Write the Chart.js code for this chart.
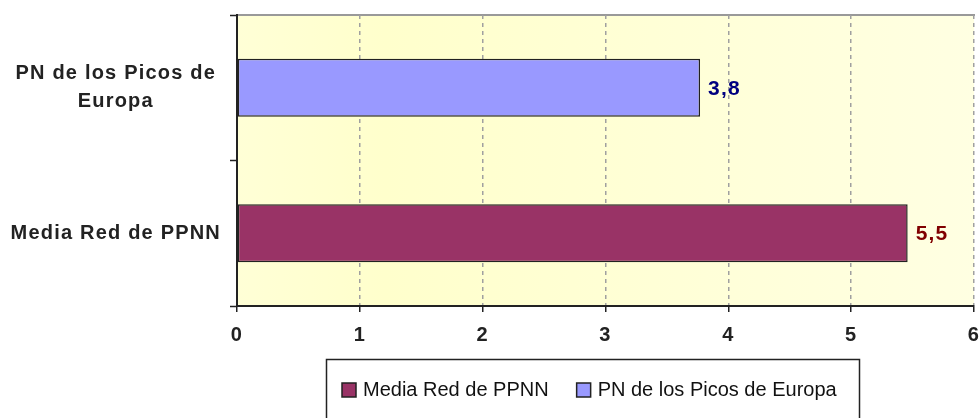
<!DOCTYPE html>
<html><head><meta charset="utf-8">
<script src="https://cdn.jsdelivr.net/npm/chart.js@4.4.1/dist/chart.umd.min.js"></script>
<style>html,body{margin:0;padding:0;background:#fff}#wrap{width:980px;height:418px;position:relative}</style>
</head><body><div id="wrap"><canvas id="c" width="980" height="418"></canvas></div>
<script>
const categories = ['Media Red de PPNN', 'PN de los Picos de Europa'];
const tickLabels = [['Media Red de PPNN'], ['PN de los Picos de', 'Europa']];
const values = [5.46, 3.77];
const valueLabels = ['5,5', '3,8'];
const barColors = ['#993366', '#9999FF'];
const valueLabelColors = ['#800000', '#000080'];
const xTicks = [0, 1, 2, 3, 4, 5, 6];

const FAMILY = "'Liberation Sans', Arial, sans-serif";
const SPACING = '1.2px';

const spacingPlugin = {
  id: 'spacing',
  beforeUpdate(chart) { chart.ctx.letterSpacing = SPACING; },
  beforeDraw(chart) { chart.ctx.letterSpacing = SPACING; }
};

const bgPlugin = {
  id: 'bg',
  beforeDraw(chart) {
    const {ctx, chartArea: a} = chart;
    ctx.save();
    const g = ctx.createLinearGradient(a.left, 0, a.right, 0);
    g.addColorStop(0, '#FFFFD6');
    g.addColorStop(0.2, '#FFFFCC');
    g.addColorStop(1, '#FFFFE2');
    ctx.fillStyle = g;
    ctx.fillRect(a.left, a.top, a.right - a.left, a.bottom - a.top);
    ctx.strokeStyle = '#999999';
    ctx.lineWidth = 2;
    ctx.beginPath();
    ctx.moveTo(a.left, a.top);
    ctx.lineTo(a.right + 1, a.top);
    ctx.stroke();
    ctx.restore();
  }
};

const valuePlugin = {
  id: 'values',
  afterDatasetsDraw(chart) {
    const {ctx} = chart;
    const meta = chart.getDatasetMeta(0);
    ctx.save();
    ctx.letterSpacing = SPACING;
    ctx.font = "bold 21px " + FAMILY;
    ctx.textAlign = 'left';
    ctx.textBaseline = 'middle';
    meta.data.forEach((el, i) => {
      ctx.fillStyle = valueLabelColors[i];
      ctx.fillText(valueLabels[i], el.x + 8, el.y + 1);
    });
    ctx.restore();
  }
};

const legendPlugin = {
  id: 'boxLegend',
  afterDraw(chart) {
    const {ctx} = chart;
    ctx.save();
    ctx.letterSpacing = '0px';
    ctx.strokeStyle = '#222';
    ctx.lineWidth = 1.5;
    ctx.strokeRect(326.5, 359.5, 533, 80);
    ctx.font = "20px " + FAMILY;
    ctx.textBaseline = 'middle';
    ctx.textAlign = 'left';
    let x = 342;
    const y = 390;
    categories.forEach((c, i) => {
      ctx.fillStyle = barColors[i];
      ctx.fillRect(x, y - 7, 14, 14);
      ctx.strokeStyle = '#222';
      ctx.lineWidth = 1.5;
      ctx.strokeRect(x, y - 7, 14, 14);
      ctx.fillStyle = '#111';
      ctx.fillText(c, x + 21, y);
      x += 21 + ctx.measureText(c).width + 28;
    });
    ctx.restore();
  }
};

new Chart(document.getElementById('c'), {
  type: 'bar',
  data: {
    labels: categories,
    datasets: [{
      label: 'Valor',
      data: values,
      backgroundColor: barColors,
      borderColor: '#222',
      borderWidth: 1.5,
      borderSkipped: false,
      barPercentage: 0.4,
      categoryPercentage: 1
    }]
  },
  options: {
    indexAxis: 'y',
    responsive: false,
    devicePixelRatio: 1,
    animation: false,
    layout: {padding: {left: 0, right: 6, top: 15, bottom: 0}},
    plugins: {legend: {display: false}, tooltip: {enabled: false}},
    scales: {
      y: {
        type: 'category',
        reverse: true,
        offset: true,
        afterFit(s) { s.width = 237; s.paddingTop = 0; s.paddingBottom = 0; },
        grid: {display: true, offset: true, drawOnChartArea: false, drawTicks: true, tickLength: 7, tickColor: '#222', tickWidth: 1.5},
        border: {display: true, color: '#222', width: 2},
        ticks: {
          font: {family: FAMILY, weight: 'bold', size: 20, lineHeight: 1.4},
          color: '#222',
          crossAlign: 'center',
          padding: 9,
          callback: (v) => tickLabels[v]
        }
      },
      x: {
        type: 'linear',
        min: xTicks[0],
        max: xTicks[xTicks.length - 1],
        afterFit(s) { s.height = 112; s.paddingLeft = 0; s.paddingRight = 0; },
        afterBuildTicks(s) { s.ticks = xTicks.map(v => ({value: v})); },
        grid: {
          color: (ctx) => (ctx.tick && ctx.tick.value === 0) ? 'rgba(0,0,0,0)' : '#A0A0A0',
          lineWidth: 1.5,
          drawTicks: true,
          tickLength: 6,
          tickColor: '#222',
          tickWidth: 1.5
        },
        border: {display: true, color: '#222', width: 2, dash: [4, 4]},
        ticks: {
          font: {family: FAMILY, weight: 'bold', size: 20},
          color: '#222',
          padding: 11,
          callback: (v) => String(v)
        }
      }
    }
  },
  plugins: [spacingPlugin, bgPlugin, valuePlugin, legendPlugin]
});
</script></body></html>
